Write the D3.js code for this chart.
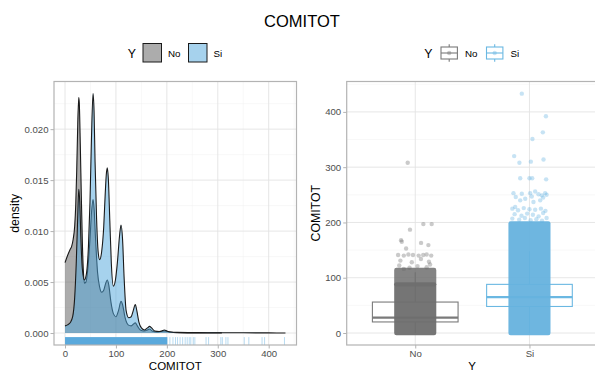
<!DOCTYPE html>
<html>
<head>
<meta charset="utf-8">
<script src="https://cdn.jsdelivr.net/npm/d3@7"></script>
<style>
  body { margin: 0; background: #fff; }
  svg { display: block; font-family: "Liberation Sans", Arial, sans-serif; }
</style>
</head>
<body>
<svg></svg>
<script>
// COMITOT by Y: density (left) and boxplot + jitter (right)
const width = 595, height = 372;

const groups = ["No", "Si"];
const colors = { No: "#595959", Si: "#4da6db" };
const boxLine = { No: "#7a7a7a", Si: "#6bb8e2" };

// density curves: [COMITOT, density]
const noDensity = [
  [0, 0.0069], [5, 0.0076], [10, 0.0082], [13, 0.0085], [16, 0.0092], [19, 0.0105],
  [21, 0.0125], [23, 0.0160], [25, 0.0205], [27, 0.0231], [28, 0.0226], [30, 0.0185],
  [32, 0.0135], [34, 0.0090], [36, 0.0061], [38, 0.0049], [41, 0.0050], [45, 0.0064],
  [49, 0.0092], [52, 0.0118], [55, 0.0131], [57, 0.0123], [60, 0.0092], [64, 0.0059],
  [68, 0.0045], [72, 0.0040], [76, 0.0042], [80, 0.0049], [83, 0.0052], [86, 0.0047],
  [90, 0.0031], [95, 0.0019], [100, 0.0016], [105, 0.0022], [110, 0.0031], [113, 0.0028],
  [118, 0.0015], [124, 0.0008], [130, 0.0007], [135, 0.0009], [138, 0.0010], [142, 0.0007],
  [148, 0.0003], [155, 0.0002], [162, 0.0003], [166, 0.0004], [171, 0.0002], [180, 0.0001],
  [195, 0.0002], [205, 0.0001], [220, 0.00003], [260, 0.00001], [308, 0.00001]
];
const siDensity = [
  [0, 0.0007], [5, 0.0008], [10, 0.0010], [15, 0.0016], [19, 0.0035], [22, 0.0068],
  [25, 0.0115], [27, 0.0141], [29, 0.0128], [31, 0.0095], [34, 0.0063], [38, 0.0052],
  [42, 0.0058], [46, 0.0085], [49, 0.0128], [52, 0.0192], [55, 0.0235], [57, 0.0218],
  [59, 0.0168], [62, 0.0112], [65, 0.0080], [68, 0.0072], [72, 0.0080], [76, 0.0104],
  [79, 0.0137], [81, 0.0155], [83, 0.0162], [85, 0.0152], [88, 0.0110], [91, 0.0068],
  [95, 0.0046], [99, 0.0052], [103, 0.0070], [107, 0.0095], [110, 0.0106], [113, 0.0092],
  [116, 0.0055], [120, 0.0022], [125, 0.0015], [130, 0.0016], [134, 0.0022], [138, 0.0028],
  [141, 0.0022], [145, 0.0011], [150, 0.0005], [156, 0.0003], [162, 0.0005], [166, 0.00065],
  [170, 0.0005], [176, 0.0002], [185, 0.00015], [190, 0.0002], [195, 0.0003], [200, 0.0002],
  [208, 0.0001], [220, 0.00006], [260, 0.00004], [300, 0.00003], [350, 0.00002],
  [400, 0.00001], [433, 0.000005]
];

// rug: dense band plus the sparse Si values beyond it
const siRugBand = [0, 201];
const siRugValues = [206, 212, 217, 221, 226, 231, 236, 240, 244, 247, 252, 255,
  277, 282, 306, 309, 316, 320, 352, 361, 387, 392, 431];

// boxplot stats
const boxStats = [
  { group: "No", lower: 0, q1: 20, median: 28, q3: 56, upper: 110 },
  { group: "Si", lower: 0, q1: 48, median: 65, q3: 88, upper: 148 }
];

// jitter: solid part of each cloud, then single points [offset, value]
const denseCloud = [
  { group: "No", from: 0, to: 88, opacity: 0.95 },
  { group: "No", from: 88, to: 114, opacity: 0.85 },
  { group: "Si", from: 0, to: 198, opacity: 0.95 }
];
const noPoints = [
  [-0.066, 308], [-0.046, 187], [0.071, 197], [0.144, 197], [-0.124, 168], [-0.118, 165],
  [0.051, 163], [0.115, 159], [-0.08, 153],
  [-0.15, 141], [-0.1, 140], [-0.06, 142], [-0.02, 141], [0.03, 140], [0.07, 141], [0.1, 142], [0.14, 140],
  [-0.13, 131], [0.12, 129], [0.05, 134], [-0.03, 128],
  [-0.14, 122], [0.1, 119], [-0.05, 118], [0.13, 124], [0.02, 121], [-0.1, 116]
];
const siPoints = [
  [-0.067, 433], [0.144, 392], [0.117, 363], [0.026, 351], [-0.134, 320], [-0.088, 308],
  [0.012, 310], [0.123, 314], [-0.081, 280], [0.0, 280], [0.024, 280], [0.146, 278],
  [-0.067, 252], [0.006, 253], [0.05, 256], [0.079, 251], [0.108, 249], [0.137, 253],
  [-0.081, 240], [-0.037, 243], [0.035, 237], [0.094, 240], [-0.125, 228],
  [-0.12, 246], [0.02, 247], [0.12, 245], [-0.14, 253], [0.15, 250],
  [-0.15, 225], [-0.1, 222], [-0.05, 226], [0.0, 224], [0.05, 223], [0.1, 225], [0.14, 221],
  [-0.13, 215], [-0.07, 212], [-0.02, 216], [0.03, 214], [0.08, 211], [0.12, 217],
  [-0.15, 207], [-0.09, 205], [-0.04, 208], [0.01, 204], [0.06, 206], [0.11, 203], [0.15, 208]
];

// ticks
const comitotTicks = [0, 100, 200, 300, 400];
const comitotMinor = [50, 150, 250, 350, 450];
const densityTicks = [0, 0.005, 0.01, 0.015, 0.02];
const densityMinor = [0.0025, 0.0075, 0.0125, 0.0175, 0.0225];

const svg = d3.select("svg").attr("width", width).attr("height", height);

const tickColor = "#4d4d4d", borderColor = "#b3b3b3";
const gridMajor = "#e3e3e3", gridMinor = "#f0f0f0";

const panelTop = 81.5, panelBottom = 345;

// title
svg.append("text")
  .attr("x", 302).attr("y", 27)
  .attr("text-anchor", "middle")
  .attr("font-size", "16.5px")
  .text("COMITOT");

// ---------- left panel: density ----------
const L = { x0: 54, x1: 296.5 };
const xDen = d3.scaleLinear().domain([-21.65, 454.65]).range([L.x0, L.x1]);
const yMax = d3.max(siDensity.concat(noDensity), d => d[1]);
const yDen = d3.scaleLinear().domain([-0.05 * yMax, 1.05 * yMax]).range([panelBottom, panelTop]);

const left = svg.append("g");
left.selectAll(".gminx").data(comitotMinor).enter().append("line")
  .attr("x1", d => xDen(d)).attr("x2", d => xDen(d)).attr("y1", panelTop).attr("y2", panelBottom)
  .attr("stroke", gridMinor).attr("stroke-width", 0.5);
left.selectAll(".gminy").data(densityMinor).enter().append("line")
  .attr("x1", L.x0).attr("x2", L.x1).attr("y1", d => yDen(d)).attr("y2", d => yDen(d))
  .attr("stroke", gridMinor).attr("stroke-width", 0.5);
left.selectAll(".gmajx").data(comitotTicks).enter().append("line")
  .attr("x1", d => xDen(d)).attr("x2", d => xDen(d)).attr("y1", panelTop).attr("y2", panelBottom)
  .attr("stroke", gridMajor).attr("stroke-width", 0.9);
left.selectAll(".gmajy").data(densityTicks).enter().append("line")
  .attr("x1", L.x0).attr("x2", L.x1).attr("y1", d => yDen(d)).attr("y2", d => yDen(d))
  .attr("stroke", gridMajor).attr("stroke-width", 0.9);

const area = d3.area()
  .x(d => xDen(d[0])).y0(yDen(0)).y1(d => yDen(d[1]))
  .curve(d3.curveMonotoneX);
const line = d3.line()
  .x(d => xDen(d[0])).y(d => yDen(d[1]))
  .curve(d3.curveMonotoneX);

[["No", noDensity], ["Si", siDensity]].forEach(([g, pts]) => {
  left.append("path").attr("d", area(pts))
    .attr("fill", colors[g]).attr("fill-opacity", 0.5);
  left.append("path").attr("d", line(pts))
    .attr("fill", "none").attr("stroke", "#1a1a1a").attr("stroke-width", 1.1);
});

// rug
const rugTop = panelBottom - 0.03 * (panelBottom - panelTop);
left.append("rect")
  .attr("x", xDen(siRugBand[0])).attr("width", xDen(siRugBand[1]) - xDen(siRugBand[0]))
  .attr("y", rugTop).attr("height", panelBottom - rugTop)
  .attr("fill", "#5aa9dc");
left.selectAll(".rug").data(siRugValues).enter().append("line")
  .attr("x1", d => xDen(d)).attr("x2", d => xDen(d))
  .attr("y1", rugTop).attr("y2", panelBottom)
  .attr("stroke", colors.Si).attr("stroke-opacity", 0.4).attr("stroke-width", 1);

left.append("rect")
  .attr("x", L.x0).attr("y", panelTop).attr("width", L.x1 - L.x0).attr("height", panelBottom - panelTop)
  .attr("fill", "none").attr("stroke", borderColor).attr("stroke-width", 1.2);

const axL = left.append("g").attr("transform", `translate(${L.x0},0)`)
  .call(d3.axisLeft(yDen).tickValues(densityTicks).tickFormat(d3.format(".3f")).tickSize(3.5).tickPadding(2));
const axB = left.append("g").attr("transform", `translate(0,${panelBottom})`)
  .call(d3.axisBottom(xDen).tickValues(comitotTicks).tickSize(3.5).tickPadding(1.5));
[axL, axB].forEach(ax => {
  ax.select(".domain").remove();
  ax.selectAll("line").attr("stroke", borderColor);
  ax.selectAll("text").attr("fill", tickColor).attr("font-size", "9.6px").attr("font-family", null);
});

left.append("text")
  .attr("transform", `translate(19,${(panelTop + panelBottom) / 2}) rotate(-90)`)
  .attr("text-anchor", "middle").attr("font-size", "12.3px").text("density");
left.append("text")
  .attr("x", (L.x0 + L.x1) / 2).attr("y", 369.6)
  .attr("text-anchor", "middle").attr("font-size", "11.5px").text("COMITOT");

// legend for the density
const legL = svg.append("g");
legL.append("text").attr("x", 127.7).attr("y", 58).attr("font-size", "12.3px").text("Y");
const legLKeys = [{ g: "No", x: 143 }, { g: "Si", x: 188.5 }];
legLKeys.forEach(k => {
  legL.append("rect").attr("x", k.x).attr("y", 43.5).attr("width", 18.5).attr("height", 18.5)
    .attr("fill", colors[k.g]).attr("fill-opacity", 0.5)
    .attr("stroke", "#1a1a1a").attr("stroke-width", 1);
  legL.append("text").attr("x", k.x + 25).attr("y", 56.5).attr("font-size", "9.8px").text(k.g);
});

// ---------- right panel: boxplot + jitter ----------
const R = { x0: 346.7, x1: 598 };
const xBox = d3.scalePoint().domain(groups).range([R.x0, R.x1]).padding(0.6);
const step = xBox.step();
const yBox = d3.scaleLinear().domain([-21.7, 455]).range([panelBottom, panelTop]);

const right = svg.append("g");
right.selectAll(".gmin").data(comitotMinor).enter().append("line")
  .attr("x1", R.x0).attr("x2", R.x1).attr("y1", d => yBox(d)).attr("y2", d => yBox(d))
  .attr("stroke", gridMinor).attr("stroke-width", 0.5);
right.selectAll(".gmaj").data(comitotTicks).enter().append("line")
  .attr("x1", R.x0).attr("x2", R.x1).attr("y1", d => yBox(d)).attr("y2", d => yBox(d))
  .attr("stroke", gridMajor).attr("stroke-width", 0.9);
right.selectAll(".gx").data(groups).enter().append("line")
  .attr("x1", d => xBox(d)).attr("x2", d => xBox(d)).attr("y1", panelTop).attr("y2", panelBottom)
  .attr("stroke", gridMajor).attr("stroke-width", 0.9);

const boxW = 0.75 * step;
const boxes = right.selectAll(".box").data(boxStats).enter().append("g");
boxes.append("line")
  .attr("x1", d => xBox(d.group)).attr("x2", d => xBox(d.group))
  .attr("y1", d => yBox(d.lower)).attr("y2", d => yBox(d.upper))
  .attr("stroke", d => boxLine[d.group]).attr("stroke-width", 1.1);
boxes.append("rect")
  .attr("x", d => xBox(d.group) - boxW / 2).attr("width", boxW)
  .attr("y", d => yBox(d.q3)).attr("height", d => yBox(d.q1) - yBox(d.q3))
  .attr("fill", "#fff").attr("stroke", d => boxLine[d.group]).attr("stroke-width", 1.1);
boxes.append("line")
  .attr("x1", d => xBox(d.group) - boxW / 2).attr("x2", d => xBox(d.group) + boxW / 2)
  .attr("y1", d => yBox(d.median)).attr("y2", d => yBox(d.median))
  .attr("stroke", d => boxLine[d.group]).attr("stroke-width", 2.2);

const jitterHalf = 0.165 * step, r = 2.2;
right.selectAll(".cloud").data(denseCloud).enter().append("rect")
  .attr("x", d => xBox(d.group) - jitterHalf - r).attr("width", 2 * (jitterHalf + r))
  .attr("y", d => yBox(d.to) - r).attr("height", d => yBox(d.from) - yBox(d.to) + 2 * r)
  .attr("rx", r)
  .attr("fill", d => d.group === "No" ? "#6e6e6e" : "#66b2de")
  .attr("opacity", d => d.opacity);

[["No", noPoints], ["Si", siPoints]].forEach(([g, pts]) => {
  right.selectAll(".pt" + g).data(pts).enter().append("circle")
    .attr("cx", d => xBox(g) + d[0] * step).attr("cy", d => yBox(d[1])).attr("r", r)
    .attr("fill", g === "No" ? "#666" : "#5eaee0").attr("fill-opacity", 0.35);
});

right.append("rect")
  .attr("x", R.x0).attr("y", panelTop).attr("width", R.x1 - R.x0).attr("height", panelBottom - panelTop)
  .attr("fill", "none").attr("stroke", borderColor).attr("stroke-width", 1.2);

const axRL = right.append("g").attr("transform", `translate(${R.x0},0)`)
  .call(d3.axisLeft(yBox).tickValues(comitotTicks).tickSize(3.5).tickPadding(2));
const axRB = right.append("g").attr("transform", `translate(0,${panelBottom})`)
  .call(d3.axisBottom(xBox).tickSize(3.5).tickPadding(1.5));
[axRL, axRB].forEach(ax => {
  ax.select(".domain").remove();
  ax.selectAll("line").attr("stroke", borderColor);
  ax.selectAll("text").attr("fill", tickColor).attr("font-size", "9.6px").attr("font-family", null);
});

right.append("text")
  .attr("transform", `translate(320,${(panelTop + panelBottom) / 2}) rotate(-90)`)
  .attr("text-anchor", "middle").attr("font-size", "12.3px").text("COMITOT");
right.append("text")
  .attr("x", 472).attr("y", 369.6)
  .attr("text-anchor", "middle").attr("font-size", "11.5px").text("Y");

// legend for the boxplot
const legR = svg.append("g");
legR.append("text").attr("x", 424.3).attr("y", 58).attr("font-size", "12.3px").text("Y");
const legRKeys = [{ g: "No", x: 441 }, { g: "Si", x: 486.5 }];
legRKeys.forEach(k => {
  const cx = k.x + 8.2;
  legR.append("line").attr("x1", cx).attr("x2", cx).attr("y1", 44.3).attr("y2", 61.7)
    .attr("stroke", boxLine[k.g]).attr("stroke-width", 1.1);
  legR.append("rect").attr("x", k.x).attr("y", 47).attr("width", 16.4).attr("height", 12)
    .attr("fill", "#fff").attr("stroke", boxLine[k.g]).attr("stroke-width", 1.1);
  legR.append("line").attr("x1", k.x).attr("x2", k.x + 16.4).attr("y1", 53).attr("y2", 53)
    .attr("stroke", boxLine[k.g]).attr("stroke-width", 1.1);
  legR.append("circle").attr("cx", cx).attr("cy", 53).attr("r", r)
    .attr("fill", k.g === "No" ? "#666" : "#5eaee0").attr("fill-opacity", 0.35);
  legR.append("text").attr("x", k.x + 24).attr("y", 56.5).attr("font-size", "9.8px").text(k.g);
});
</script>
</body>
</html>
